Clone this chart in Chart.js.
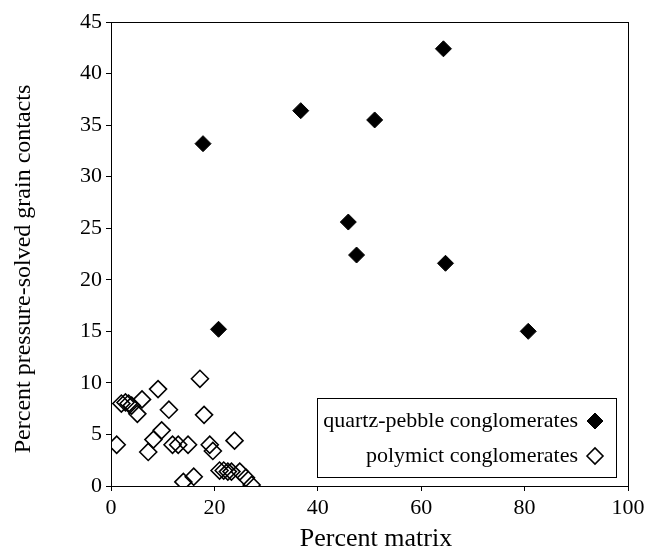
<!DOCTYPE html>
<html>
<head>
<meta charset="utf-8">
<script src="https://cdn.jsdelivr.net/npm/chart.js@4/dist/chart.umd.min.js"></script>
<style>
  html, body { margin: 0; padding: 0; background: #fff; }
  #wrap { width: 652px; height: 555px; }
</style>
</head>
<body>
<div id="wrap"><canvas id="scatterChart" width="652" height="555"></canvas></div>
<script>
// quartz-pebble conglomerates (filled diamonds)
var quartzX = [17.8, 20.8, 36.7, 45.9, 47.5, 51.0, 64.3, 64.7, 80.7];
var quartzY = [33.2, 15.2, 36.4, 25.6, 22.4, 35.5, 42.4, 21.6, 15.0];

// polymict conglomerates (open diamonds)
var polyX = [1.1, 2.0, 2.8, 3.4, 4.0, 5.1, 6.0, 7.2, 8.2, 9.1, 9.8, 11.2, 11.9, 13.0,
             14.0, 14.9, 16.0, 17.2, 18.0, 19.1, 19.7, 21.0, 21.8, 22.6, 23.3, 23.9,
             24.9, 26.1, 27.2];
var polyY = [4.0, 8.0, 8.1, 8.0, 7.8, 7.0, 8.4, 3.3, 4.5, 9.4, 5.4, 7.4, 4.0, 4.0,
             0.4, 4.0, 0.9, 10.4, 6.9, 4.0, 3.4, 1.5, 1.5, 1.4, 1.4, 4.4,
             1.4, 0.8, 0.1];

var seriesLabels = ["quartz-pebble conglomerates", "polymict conglomerates"];
var xTicks = [0, 20, 40, 60, 80, 100];
var yTicks = [0, 5, 10, 15, 20, 25, 30, 35, 40, 45];

var serif = "'Liberation Serif', 'Times New Roman', serif";
var nb = '\u00a0';

function toPoints(xs, ys){
    return xs.map(function(x, i){ return {x: x, y: ys[i]}; });
}

// box around the plot area
var frame = {
    id: 'frame',
    afterDraw: function(chart){
        var a = chart.chartArea, ctx = chart.ctx;
        ctx.save();
        ctx.strokeStyle = '#000';
        ctx.lineWidth = 1;
        ctx.strokeRect(a.left + 0.5, a.top + 0.5, a.right - a.left, a.bottom - a.top);
        ctx.restore();
    }
};

// legend inside the plot, text right-aligned with the marker after it
var innerLegend = {
    id: 'innerLegend',
    afterDraw: function(chart){
        var a = chart.chartArea, ctx = chart.ctx;
        var right = a.right - 12, bottom = a.bottom - 9;
        var w = 299, h = 79, left = right - w, top = bottom - h;
        ctx.save();
        ctx.fillStyle = '#fff';
        ctx.fillRect(left, top, w, h);
        ctx.strokeStyle = '#000';
        ctx.lineWidth = 1;
        ctx.strokeRect(left + 0.5, top + 0.5, w, h);
        ctx.font = "22px " + serif;
        ctx.textAlign = 'right';
        ctx.textBaseline = 'middle';
        chart.data.datasets.forEach(function(ds, i){
            var y = top + 23 + i * 35;
            var mx = right - 21, r = 8;
            ctx.fillStyle = '#000';
            ctx.fillText(ds.label, right - 38, y);
            ctx.fillStyle = ds.backgroundColor;
            ctx.strokeStyle = ds.borderColor;
            ctx.lineWidth = ds.borderWidth;
            ctx.beginPath();
            ctx.moveTo(mx - r, y);
            ctx.lineTo(mx, y - r);
            ctx.lineTo(mx + r, y);
            ctx.lineTo(mx, y + r);
            ctx.closePath();
            ctx.fill();
            ctx.stroke();
        });
        ctx.restore();
    }
};

var ctx = document.getElementById("scatterChart").getContext('2d');
var myChart = new Chart(ctx, {
    type: 'scatter',
    data: {
        datasets: [{
            label: seriesLabels[0],
            data: toPoints(quartzX, quartzY),
            pointStyle: 'rectRot',
            pointRadius: 8,
            pointHoverRadius: 8,
            backgroundColor: '#000',
            borderColor: '#000',
            borderWidth: 1
        }, {
            label: seriesLabels[1],
            data: toPoints(polyX, polyY),
            pointStyle: 'rectRot',
            pointRadius: 8.5,
            pointHoverRadius: 8.5,
            backgroundColor: 'rgba(255,255,255,0)',
            borderColor: '#000',
            borderWidth: 1.6
        }]
    },
    options: {
        responsive: false,
        animation: false,
        layout: { padding: { top: 22, right: 24, left: 0, bottom: 0 } },
        plugins: {
            legend: { display: false },
            tooltip: { enabled: false }
        },
        scales: {
            x: {
                type: 'linear',
                min: 0, max: 100,
                afterBuildTicks: function(scale){
                    scale.ticks = xTicks.map(function(v){ return {value: v}; });
                },
                afterFit: function(scale){ scale.height = 69; },
                grid: { drawOnChartArea: false, drawTicks: true, tickLength: 5, color: '#000' },
                border: { color: '#000', width: 1 },
                ticks: { color: '#000', padding: 4, maxRotation: 0, font: { family: serif, size: 22 } },
                title: {
                    display: true, text: nb + nb + 'Percent matrix', color: '#000',
                    padding: { top: 0, bottom: 0 },
                    font: { family: serif, size: 26 }
                }
            },
            y: {
                type: 'linear',
                min: 0, max: 45,
                afterBuildTicks: function(scale){
                    scale.ticks = yTicks.map(function(v){ return {value: v}; });
                },
                afterFit: function(scale){ scale.width = 111; },
                grid: { drawOnChartArea: false, drawTicks: true, tickLength: 5, color: '#000' },
                border: { color: '#000', width: 1 },
                ticks: { color: '#000', padding: 4, font: { family: serif, size: 22 } },
                title: {
                    display: true,
                    text: 'Percent pressure-solved grain contacts' + nb + nb + nb + nb + nb,
                    color: '#000',
                    padding: { top: 9, bottom: 0 },
                    font: { family: serif, size: 24 }
                }
            }
        }
    },
    plugins: [frame, innerLegend]
});
</script>
</body>
</html>
